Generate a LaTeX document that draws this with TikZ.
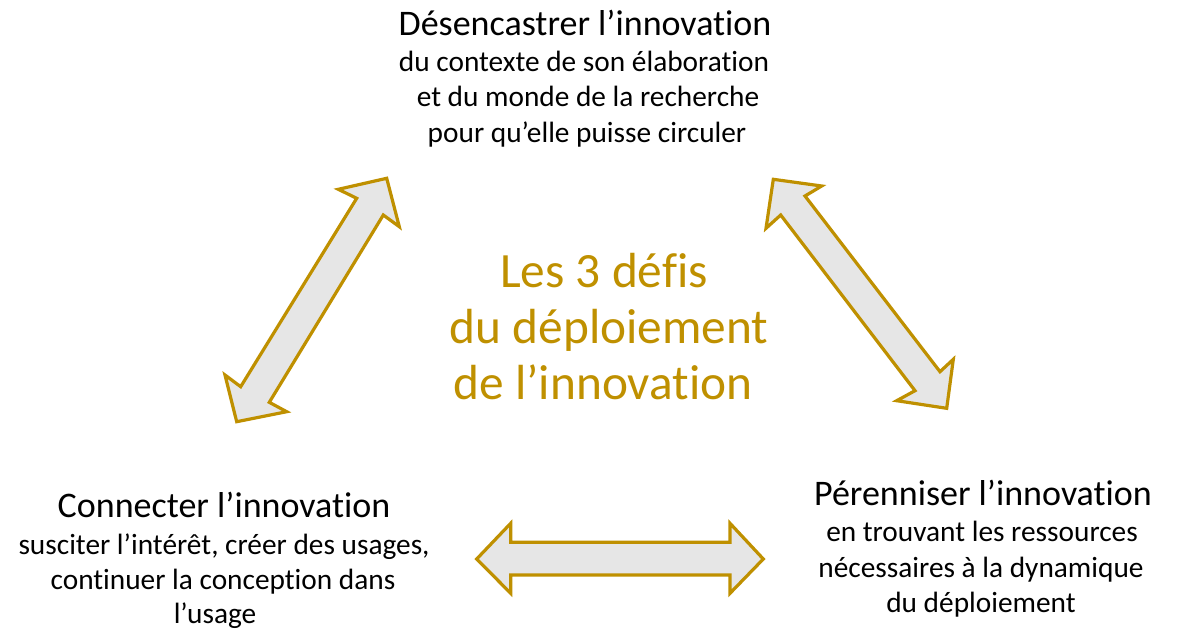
\documentclass[tikz,border=0pt]{standalone}
\usepackage{fontspec}
\setmainfont{Carlito}[RawFeature={-liga}]
\definecolor{gold}{HTML}{BF9000}
\definecolor{arrowfill}{HTML}{E6E6E6}
\begin{document}
\begin{tikzpicture}[x=0.75pt,y=-0.75pt,
  bigarrow/.style={draw=gold,fill=arrowfill,line width=2.4pt,line join=miter},
  title/.style={anchor=base,inner sep=0pt,font=\fontsize{27}{32}\selectfont},
  body/.style={anchor=base,inner sep=0pt,font=\fontsize{22}{26}\selectfont},
  center/.style={anchor=base,inner sep=0pt,text=gold,font=\fontsize{37}{44}\selectfont}]
\useasboundingbox (0,0) rectangle (1181,628);
% top block
\node[title] (t1) at (585,35) {Désencastrer l’innovation};
\node[body] (t1a) at (584,71) {du contexte de son élaboration};
\node[body] (t1b) at (588,106) {et du monde de la recherche};
\node[body] (t1c) at (587,142) {pour qu’elle puisse circuler};
% center
\node[center] (c1) at (604,287) {Les 3 dé{fi}s};
\node[center] (c2) at (609,343) {du déploiement};
\node[center] (c3) at (603,399) {de l’innovation};
% left block
\node[title] (l1) at (224,517) {Connecter l’innovation};
\node[body] (l1a) at (224,554) {susciter l’intérêt, créer des usages,};
\node[body] (l1b) at (223,589) {continuer la conception dans};
\node[body] (l1c) at (215,623) {l’usage};
% right block
\node[title] (r1) at (983,505) {Pérenniser l’innovation};
\node[body] (r1a) at (982,541) {en trouvant les ressources};
\node[body] (r1b) at (981,577) {nécessaires à la dynamique};
\node[body] (r1c) at (981,612) {du déploiement};
% arrows
\draw[bigarrow] (386.7,178.3) -- (399.3,226.7) -- (383.3,215) -- (269.3,402.3) -- (286.7,411.7)
  -- (236.7,421.7) -- (225,375) -- (240.7,386.7) -- (356.7,198.3) -- (338.3,189.3) -- cycle;
\draw[bigarrow] (773.3,179.3) -- (821.7,186) -- (805,196) -- (940,371.7) -- (953.3,359.3)
  -- (946.7,408.3) -- (896.7,400.7) -- (915,390.7) -- (780.7,215) -- (766,228.3) -- cycle;
\draw[bigarrow] (476.7,559) -- (510.7,523.3) -- (510.7,542.3) -- (730,542.3) -- (730,523.3)
  -- (763.3,559) -- (730,593.3) -- (730,575) -- (510.7,575) -- (510.7,593.3) -- cycle;
\end{tikzpicture}
\end{document}
